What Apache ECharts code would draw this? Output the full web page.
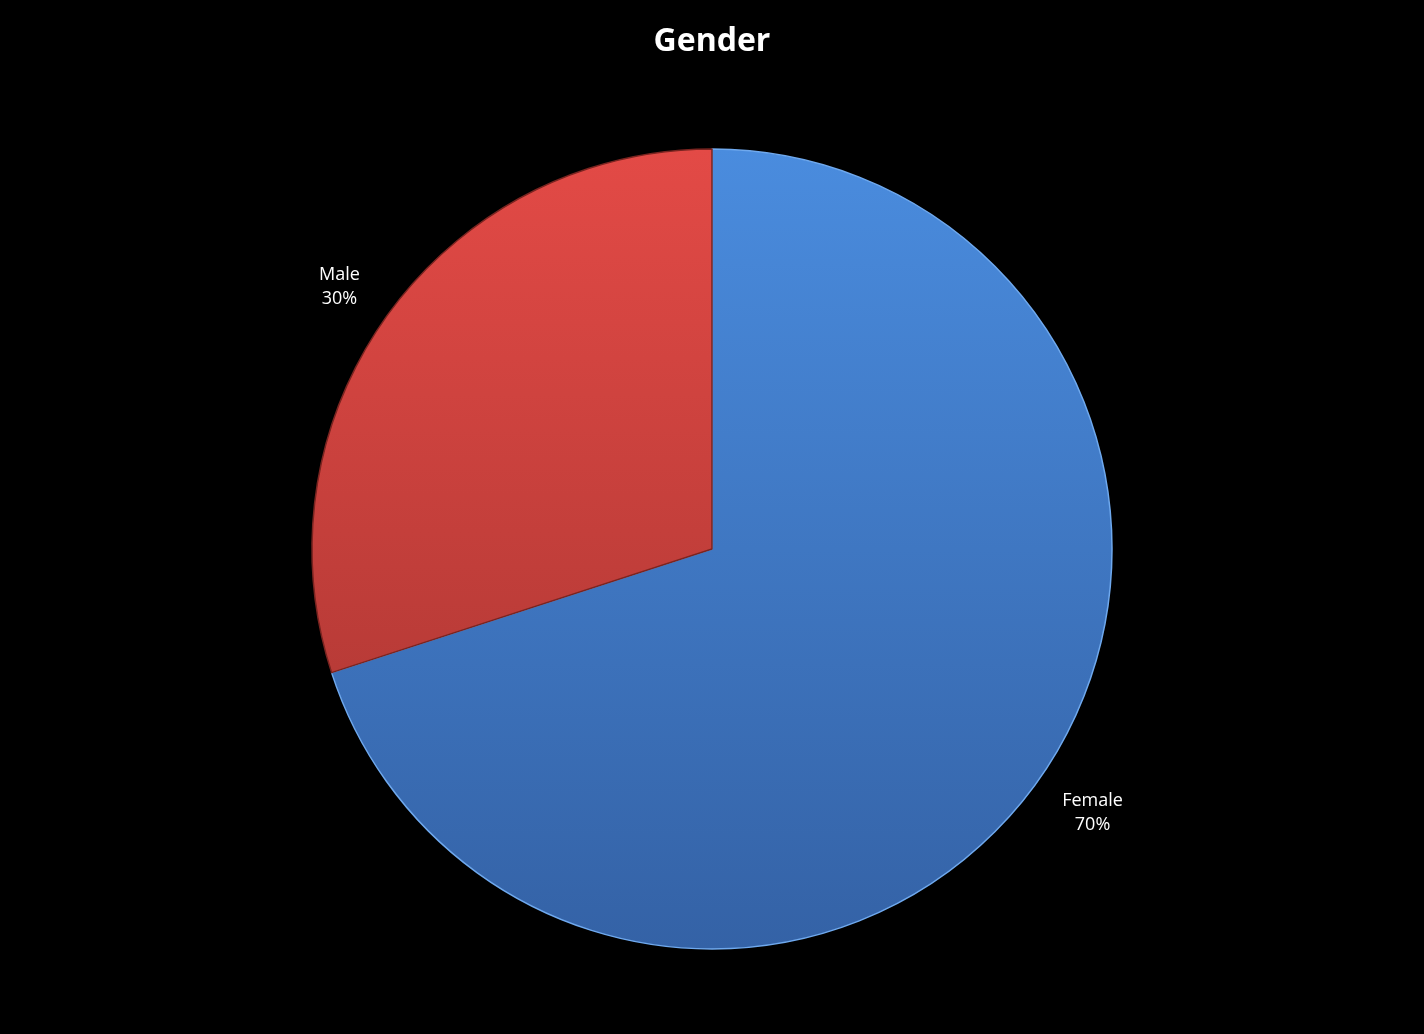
<!DOCTYPE html>
<html>
<head>
<meta charset="utf-8">
<script src="https://cdn.jsdelivr.net/npm/echarts@6/dist/echarts.min.js"></script>
<style>
html,body{margin:0;padding:0;background:#000;}
#chart{width:1424px;height:1034px;}
</style>
</head>
<body>
<div id="chart"></div>
<script>
const titleText = 'Gender';
const categories = ['Female', 'Male'];
const values = [70, 30];

const chart = echarts.init(document.getElementById('chart'));
const grad = (top, bottom) => ({
  type: 'linear', global: true, x: 0, y: 149, x2: 0, y2: 949,
  colorStops: [{offset: 0, color: top}, {offset: 1, color: bottom}]
});
const fills = [
  {color: grad('#4a8cde', '#3462a6'), border: '#6fa9ee'},
  {color: grad('#e34a46', '#a2332f'), border: '#7a2420'}
];
const labelNudge = [[5, -5], [3, 7]];
chart.setOption({
  backgroundColor: '#000',
  animation: false,
  title: {
    text: titleText, left: 'center', top: 21,
    textStyle: {color: '#fff', fontSize: 32, fontWeight: 'bold', fontFamily: 'Open Sans'}
  },
  series: [{
    type: 'pie',
    center: [712, 549],
    radius: 400,
    startAngle: 90,
    clockwise: true,
    data: categories.map((c, i) => ({
      name: c, value: values[i],
      itemStyle: {color: fills[i].color, borderColor: fills[i].border, borderWidth: 1.5}
    })),
    label: {
      show: true, position: 'outside',
      formatter: p => p.name + '\n' + Math.round(p.percent) + '%',
      color: '#fff', fontSize: 18, lineHeight: 24, fontFamily: 'Open Sans', align: 'center'
    },
    labelLine: {show: false, length: 58, length2: 0},
    labelLayout: p => ({align: 'center', verticalAlign: 'middle',
      dx: labelNudge[p.dataIndex][0], dy: labelNudge[p.dataIndex][1]}),
    emphasis: {disabled: true}
  }]
});
</script>
</body>
</html>
